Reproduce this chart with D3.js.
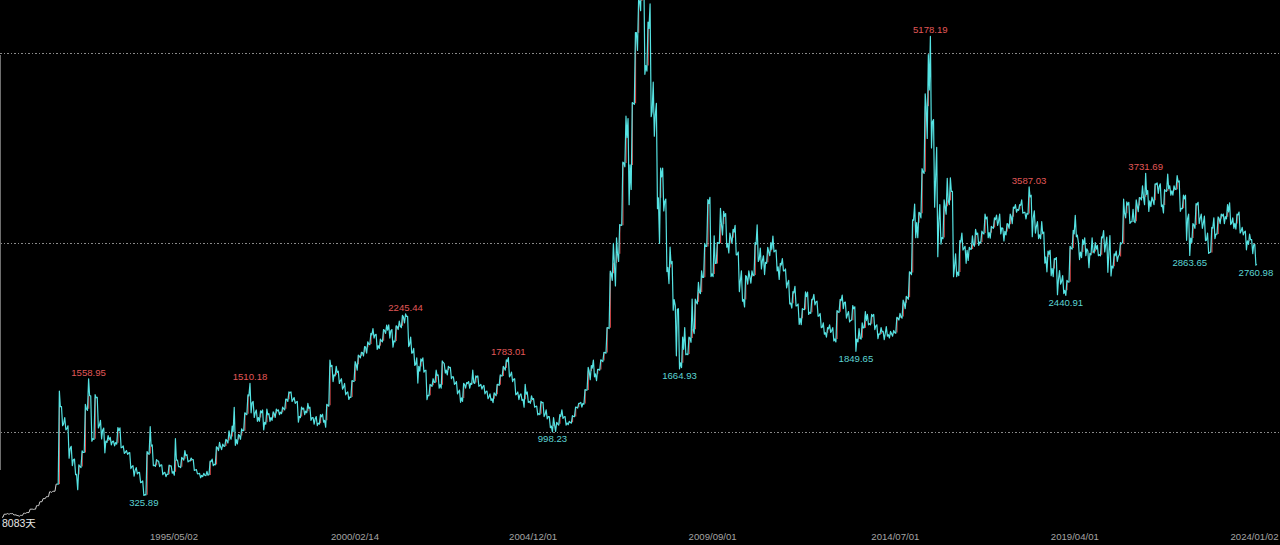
<!DOCTYPE html>
<html><head><meta charset="utf-8">
<script src="https://cdn.jsdelivr.net/npm/d3@7"></script>
<style>html,body{margin:0;padding:0;background:#000;overflow:hidden}svg{display:block}</style>
</head><body><svg id="c" width="1280" height="545"></svg>
<script>
// Monthly OHLC, month 0 = 1990/12 ... month 397 = 2024/01
const firstOpen = 96.05;
const closes = [
127.61,
129.97,133.01,120.19,113.94,114.83,137.56,145.34,180.92,180.39,218.57,259.60,292.75,
313.24,364.69,370.30,445.68,1265.09,1081.93,1032.07,822.16,704.13,548.25,632.61,780.39,
1243.10,1381.72,925.91,1358.78,1065.47,1014.77,901.83,913.90,895.09,884.39,1012.94,833.80,
781.32,773.47,629.63,589.09,567.04,467.04,333.92,770.75,847.18,646.64,692.08,647.87,
563.05,549.26,638.97,577.30,700.51,630.62,714.15,748.04,691.18,703.68,594.64,555.29,
537.35,539.61,541.07,682.87,653.87,831.82,842.85,848.35,907.27,950.10,1001.73,917.02,
960,1010,1190,1380,1305,1200,1150,1200,1100,1180,1150,1194,
1220,1206,1243,1343,1411,1339,1313,1161,1238,1217,1247,1146,
1134,1090,1158,1120,1279,1689,1601,1627,1539,1469,1409,1367,
1535,1714,1800,1836,1894,1928,2023,2022,1910,1961,2070,2073,
2065,1959,2112,2119,2214,2218,1920,1834,1712,1690,1747,1646,
1384,1491,1524,1596,1497,1732,1652,1677,1581,1508,1420,1357,
1500,1511,1510,1521,1576,1487,1476,1421,1367,1349,1397,1497,
1590,1675,1741,1595,1555,1399,1386,1342,1396,1320,1341,1266,
1191,1306,1181,1159,1060,1080,1083,1162,1155,1092,1099,1161,
1258,1299,1298,1440,1642,1672,1612,1658,1752,1837,2099,2675,
2786,2881,3183,3841,4109,3820,4471,5218,5552,5954,4871,5262,
4383,4348,3473,3693,3433,2736,2775,2397,2293,1729,1871,1821,
1991,2082,2373,2477,2632,2959,3412,2668,2779,2996,3195,3277,
2989,3051,3110,2870,2592,2398,2638,2639,2656,2979,2820,2808,
2791,2905,2928,2911,2743,2762,2701,2567,2359,2468,2333,2199,
2292,2428,2262,2396,2372,2225,2103,2047,2086,2068,1980,2269,
2385,2365,2236,2177,2300,1979,1993,2098,2175,2141,2220,2116,
2033,2056,2033,2026,2039,2048,2201,2217,2364,2420,2683,3235,
3210,3310,3748,4441,4612,4277,3664,3206,3053,3383,3445,3539,
2738,2688,3004,2938,2917,2930,2979,3085,3005,3100,3250,3104,
3159,3242,3223,3155,3117,3192,3273,3361,3349,3393,3317,3307,
3481,3259,3169,3082,3095,2847,2876,2725,2821,2603,2588,2494,
2585,2941,3091,3078,2899,2979,2933,2886,2905,2929,2871,3050,
2977,2880,2750,2860,2852,2985,3310,3396,3218,3225,3392,3473,
3483,3509,3441,3447,3615,3591,3397,3544,3568,3547,3564,3640,
3361,3462,3252,3047,3186,3399,3253,3202,3024,2893,3151,3089,
3255,3280,3273,3323,3205,3202,3291,3120,3110,3018,3030,2975,
2770
];
const highs = [
127.61,
135.19,134.87,134.70,120.65,115.27,137.56,145.34,180.92,181.66,218.57,259.60,292.75,
313.24,364.69,370.30,445.68,1429.01,1265.99,1150,1062,845,710,650,798,
1290,1558.95,1380,1392,1364,1120,1038,960,940,900,1044,1040,
850,800,780,640,620,570,480,790,1052.94,860,706,690,
650,570,647,640,926.41,700,730,800,757,722,706,600,
560,560,580,690,710,840,888,870,920,1010,1060,1258.69,
970,1030,1200,1390,1510.18,1320,1230,1220,1230,1240,1190,1210,
1240,1230,1260,1345,1422,1420,1360,1320,1260,1250,1300,1260,
1150,1160,1180,1185,1290,1756,1700,1690,1640,1560,1510,1420,
1540,1740,1810,1840,1900,1950,2040,2090,2030,1980,2080,2126,
2130,2080,2120,2170,2230,2245.44,2220,2000,1880,1780,1770,1780,
1650,1500,1560,1650,1600,1748,1720,1690,1680,1580,1530,1440,
1510,1520,1530,1650,1590,1590,1500,1490,1430,1400,1410,1500,
1600,1690,1760,1783.01,1630,1560,1420,1400,1500,1420,1380,1350,
1270,1320,1310,1230,1160,1150,1100,1180,1230,1160,1110,1170,
1260,1300,1310,1445,1680,1700,1757,1660,1760,1840,2100,2698,
2990,3050,3190,3850,4335,4310,4480,5220,5560,6124.04,5900,5330,
5522,4695,4472,3786,3786,3459,2952,2800,2333,2300,2000,2100,
2000,2402,2402,2580,2700,2990,3454,3478,3070,3000,3361,3330,
3306,3100,3140,3181,2900,2700,2650,2700,2700,3000,3186,2940,
2860,2950,3000,3067,2920,2780,2830,2720,2600,2480,2536,2350,
2300,2478,2476,2400,2453,2380,2250,2150,2100,2130,2100,2280,
2400,2444,2370,2270,2334,2320,2090,2150,2270,2240,2240,2240,
2130,2100,2060,2110,2060,2070,2210,2250,2390,2430,2690,3240,
3406,3320,3780,4572,4986,5178.19,4300,4006,3400,3450,3678,3684,
3540,2880,3020,3100,2960,2950,3070,3140,3100,3120,3301,3270,
3170,3260,3290,3300,3150,3200,3300,3375,3400,3400,3450,3320,
3587.03,3500,3335,3220,3220,3110,2910,2918,2830,2840,2704,2650,
2600,2960,3129,3288,3000,3030,3050,2910,3050,3000,2970,3060,
3127,3058,3074,2880,2910,3000,3458,3430,3425,3350,3450,3474,
3600,3731.69,3550,3480,3620,3630,3620,3560,3723,3600,3600,3708,
3650,3500,3500,3300,3200,3410,3425,3300,3280,3100,3160,3260,
3270,3300,3300,3400,3420,3260,3300,3322,3160,3120,3090,3030,
2980
];
const lows = [
95.79,
127.61,129.51,120.19,113.94,104.96,114.96,136.85,145.38,178.43,180.71,218.62,259.85,
292.76,313.55,358.14,370.56,445.68,1063.56,1020,719.88,640,545,386.85,620,
780,1225,900,919,1039,924,777,888,860,850,870,830,
770,760,610,530,554,462,325.89,332,760,640,634,630,
545,524.43,549,562,540,630,620,700,680,690,590,555,
512.83,525,535,545,640,650,800,810,845,880,920,855.8,
870,920,1010,1180,1200,1150,1110,1110,1020,1080,1110,1120,
1150,1180,1190,1230,1320,1320,1300,1100,1150,1180,1200,1120,
1080,1064,1080,1100,1047,1270,1530,1590,1510,1450,1390,1341,
1361,1530,1650,1780,1800,1830,1920,1990,1870,1880,1950,2040,
1990,1893,1950,2080,2100,2150,1900,1830,1700,1514,1640,1630,
1339,1380,1480,1520,1460,1460,1620,1600,1560,1500,1400,1311,
1320,1460,1460,1500,1510,1480,1450,1400,1350,1330,1307,1380,
1490,1590,1650,1580,1530,1390,1340,1330,1260,1310,1300,1259,
1177,1180,1160,1136,1043,998.23,1004,1070,1140,1070,1074,1090,
1160,1250,1260,1290,1440,1550,1580,1540,1650,1740,1830,2090,
2600,2540,2800,3180,3800,3400,3560,4460,5030,5450,4778,4812,
4330,4123,3357,2990,3333,2693,2566,2284,1802,1664.93,1678,1814,
1814,1945,2037,2350,2460,2630,2960,2640,2639,2780,2990,3080,
2950,2890,2990,2870,2481,2380,2319,2560,2570,2650,2800,2720,
2661,2780,2860,2900,2700,2610,2700,2520,2350,2307,2330,2134,
2132,2290,2240,2250,2340,2220,2100,2030,2000,2050,1959,1949,
2260,2300,2200,2160,2180,1849.65,1950,1980,2100,2130,2130,2080,
1984,2030,1974,2010,1991,2010,2040,2180,2200,2300,2400,2660,
3050,3050,3260,3730,4100,4000,3373,2850,2983,3040,3300,3400,
2638,2638,2650,2920,2780,2810,2930,2960,2970,3000,3090,3050,
3045,3150,3180,3090,3016,3080,3150,3200,3320,3340,3310,3250,
3300,3062,3100,3040,3040,2782,2690,2650,2640,2449,2560,2460,
2440.91,2580,2930,3060,2820,2840,2860,2733,2870,2890,2860,2860,
2900,2685,2646,2730,2800,2870,3000,3260,3202,3220,3209,3325,
3450,3400,3328,3380,3400,3520,3380,3312,3540,3500,3500,3560,
3330,3357,3023,2863.65,3000,3150,3200,3150,3020,2885,2900,3040,
3089,3200,3200,3250,3190,3150,3140,3100,3080,2923,2980,2883,
2760.98
];
const peakMonths = [26, 77, 126, 160, 294, 325, 362];
const peakValues = [1558.95, 1510.18, 2245.44, 1783.01, 5178.19, 3587.03, 3731.69];
const troughMonths = [43, 174, 214, 270, 337, 376, 397];
const troughValues = [325.89, 998.23, 1664.93, 1849.65, 2440.91, 2863.65, 2760.98];
const dateTicks = ["1995/05/02","2000/02/14","2004/12/01","2009/09/01","2014/07/01","2019/04/01","2024/01/02"];
const gridValues = [1000, 3000, 5000];
const dayCountLabel = "8083天";

const W = 1280, H = 545;
const svg = d3.select("#c");
svg.append("rect").attr("width", W).attr("height", H).attr("fill", "#000");

// month-index x scale (calibrated to the trading-day spacing of the picture)
const x = d3.scaleLinear().domain([0, 44, 127, 160, 398]).range([2, 145, 406.7, 507.4, 1257]);
const y = d3.scaleLinear().domain([1000, 5000]).range([431.7, 53.3]);

// gridlines
const grid = svg.append("g").call(d3.axisRight(y).tickValues(gridValues).tickSize(W).tickFormat(""));
grid.select(".domain").remove();
grid.selectAll("line").attr("stroke", "#8a8a8a").attr("stroke-width", 1).attr("stroke-dasharray", "1.5,2")
  .attr("shape-rendering", "crispEdges");

// left border line
svg.append("line").attr("x1", 0.5).attr("x2", 0.5).attr("y1", 55).attr("y2", 470)
  .attr("stroke", "#6e6e6e").attr("stroke-width", 1);

// build month records
const months = closes.map((c, i) => {
  const o = i === 0 ? firstOpen : closes[i - 1];
  return {i, o, h: highs[i], l: lows[i], c, up: c >= o};
});
function monthPoints(m) {
  const e1 = m.up ? m.l : m.h, e2 = m.up ? m.h : m.l;
  return [[m.i + 0.3, e1], [m.i + 0.65, e2], [m.i + 0.95, m.c]];
}
function extremeX(m, isHigh) {
  const first = m.up ? !isHigh : isHigh;
  return x(m.i + (first ? 0.3 : 0.65));
}
const line = d3.line().x(d => x(d[0])).y(d => y(d[1]));

const plot = svg.append("g");
// red bodies of rising months (drawn beneath the price trace)
plot.selectAll("line.up").data(months.filter(m => m.up && m.i > 16)).join("line")
  .attr("class", "up")
  .attr("x1", m => x(m.i + 0.5) + 0.6).attr("x2", m => x(m.i + 0.5) + 0.6)
  .attr("y1", m => y(m.o)).attr("y2", m => y(m.c))
  .attr("stroke", "#d84848").attr("stroke-width", 1.1);

const early = months.filter(m => m.i <= 16);
const earlyPts = [[0, firstOpen]].concat(...early.map(monthPoints));
plot.append("path").attr("d", line(earlyPts)).attr("fill", "none")
  .attr("stroke", "#cfcfcf").attr("stroke-width", 1);

const later = months.filter(m => m.i > 16);
const laterPts = [[16.95, closes[16]]].concat(...later.map(monthPoints));
plot.append("path").attr("d", line(laterPts)).attr("fill", "none")
  .attr("stroke", "#55e2e2").attr("stroke-width", 1.2).attr("stroke-linejoin", "round");

// peak / trough labels
const font = "'Liberation Sans', Arial, sans-serif";
svg.append("g").selectAll("text").data(peakMonths).join("text")
  .attr("x", (m) => extremeX(months[m], true))
  .attr("y", (m, k) => y(peakValues[k]) - 3)
  .attr("text-anchor", "middle").attr("fill", "#e05858")
  .attr("font-family", font).attr("font-size", 9.6)
  .text((m, k) => peakValues[k].toFixed(2));
svg.append("g").selectAll("text").data(troughMonths).join("text")
  .attr("x", (m) => Math.min(extremeX(months[m], false), 1262))
  .attr("y", (m, k) => y(troughValues[k]) + 10.5)
  .attr("text-anchor", "middle").attr("fill", "#5cd4d4")
  .attr("font-family", font).attr("font-size", 9.6)
  .text((m, k) => troughValues[k].toFixed(2));

// date axis
const tickPos = dateTicks.map(s => {
  const [yy, mo, dd] = s.split("/").map(Number);
  return (yy - 1990) * 12 + (mo - 12) + (dd - 1) / 30;
});
const ax = svg.append("g").attr("transform", "translate(0,530)")
  .call(d3.axisBottom(x).tickValues(tickPos).tickFormat((d, i) => dateTicks[i]).tickSize(0).tickPadding(3));
ax.select(".domain").remove();
ax.selectAll("text").attr("fill", "#a4a4a4").attr("font-family", font).attr("font-size", 9.6);

svg.append("text").attr("x", 2).attr("y", 527).attr("fill", "#e6e6e6")
  .attr("font-family", "'Liberation Sans', 'Noto Sans CJK SC', sans-serif").attr("font-size", 10.5)
  .text(dayCountLabel);
</script>
</body></html>
